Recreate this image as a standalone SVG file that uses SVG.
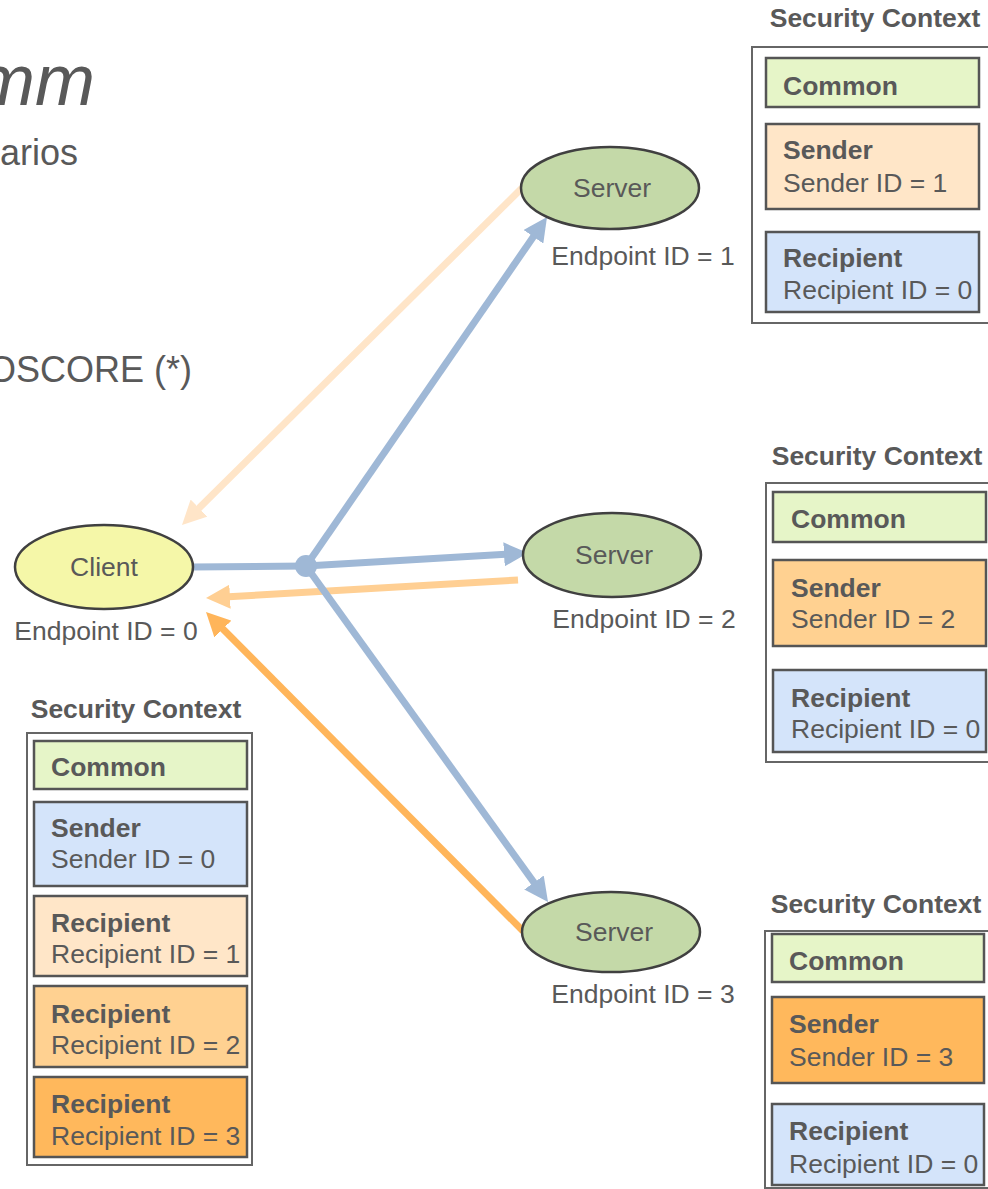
<svg xmlns="http://www.w3.org/2000/svg" width="988" height="1189" viewBox="0 0 988 1189">
  <style>
    text { font-family: "Liberation Sans", Arial, sans-serif; fill: #595959; }
    .title { font-size: 36px; }
    .big { font-size: 72px; font-style: italic; }
    .lbl { font-size: 26.5px; }
    .bold { font-size: 26.5px; font-weight: bold; }
    .node { stroke: #404040; stroke-width: 2.5; }
    .frame { fill: #ffffff; stroke: #666666; stroke-width: 2; }
    .part { stroke: #555555; stroke-width: 2.5; }
    .common { fill: #E6F5C8; }
    .blue { fill: #D4E4FA; }
    .peach { fill: #FFE6C8; }
    .lorange { fill: #FFD191; }
    .orange { fill: #FFB85C; }
    .wire { fill: none; stroke-width: 7; }
  </style>
  <defs>
    <marker id="ah-blue" viewBox="0 0 24 24" refX="6" refY="12" markerWidth="24" markerHeight="24" markerUnits="userSpaceOnUse" orient="auto">
      <path d="M0,0 L24,12 L0,24 z" fill="#9FB8D6"/>
    </marker>
    <marker id="ah-peach" viewBox="0 0 24 24" refX="6" refY="12" markerWidth="24" markerHeight="24" markerUnits="userSpaceOnUse" orient="auto">
      <path d="M0,0 L24,12 L0,24 z" fill="#FFE5C8"/>
    </marker>
    <marker id="ah-lorange" viewBox="0 0 24 24" refX="6" refY="12" markerWidth="24" markerHeight="24" markerUnits="userSpaceOnUse" orient="auto">
      <path d="M0,0 L24,12 L0,24 z" fill="#FFCF93"/>
    </marker>
    <marker id="ah-orange" viewBox="0 0 24 24" refX="6" refY="12" markerWidth="24" markerHeight="24" markerUnits="userSpaceOnUse" orient="auto">
      <path d="M0,0 L24,12 L0,24 z" fill="#FFB55A"/>
    </marker>
  </defs>

  <rect width="988" height="1189" fill="#ffffff"/>

  <!-- slide text partly outside the frame -->
  <g id="heading">
    <text class="big" x="95" y="105" text-anchor="end">mm</text>
    <text class="title" x="78" y="165" text-anchor="end">arios</text>
    <text class="title" x="192" y="382" text-anchor="end">OSCORE (*)</text>
  </g>

  <!-- connectors -->
  <g id="connectors">
    <line class="wire" x1="522" y1="188" x2="194.8" y2="512.3" stroke="#FFE5C8" marker-end="url(#ah-peach)"/>
    <line class="wire" x1="518" y1="580" x2="224" y2="597" stroke="#FFCF93" marker-end="url(#ah-lorange)"/>
    <line class="wire" x1="523" y1="931" x2="218.7" y2="624.8" stroke="#FFB55A" marker-end="url(#ah-orange)"/>
    <line class="wire" x1="192" y1="567" x2="306" y2="566" stroke="#9FB8D6"/>
    <line class="wire" x1="306" y1="566" x2="536.8" y2="231.8" stroke="#9FB8D6" marker-end="url(#ah-blue)"/>
    <line class="wire" x1="306" y1="566" x2="510" y2="554" stroke="#9FB8D6" marker-end="url(#ah-blue)"/>
    <line class="wire" x1="306" y1="566" x2="537.5" y2="887.4" stroke="#9FB8D6" marker-end="url(#ah-blue)"/>
    <circle cx="306" cy="566" r="11" fill="#9FB8D6"/>
  </g>

  <!-- endpoints -->
  <g id="client">
    <ellipse class="node" cx="104" cy="567" rx="89" ry="42" fill="#F5F7A8"/>
    <text class="lbl" x="104" y="576" text-anchor="middle">Client</text>
    <text class="lbl" x="106" y="640" text-anchor="middle">Endpoint ID = 0</text>
  </g>
  <g id="server1">
    <ellipse class="node" cx="610" cy="188" rx="89" ry="41" fill="#C4D9A8"/>
    <text class="lbl" x="612" y="197" text-anchor="middle">Server</text>
    <text class="lbl" x="643" y="265" text-anchor="middle">Endpoint ID = 1</text>
  </g>
  <g id="server2">
    <ellipse class="node" cx="612" cy="555" rx="89" ry="42" fill="#C4D9A8"/>
    <text class="lbl" x="614" y="564" text-anchor="middle">Server</text>
    <text class="lbl" x="644" y="628" text-anchor="middle">Endpoint ID = 2</text>
  </g>
  <g id="server3">
    <ellipse class="node" cx="611" cy="932" rx="89" ry="40" fill="#C4D9A8"/>
    <text class="lbl" x="614" y="941" text-anchor="middle">Server</text>
    <text class="lbl" x="643" y="1003" text-anchor="middle">Endpoint ID = 3</text>
  </g>

  <!-- security contexts -->
  <g id="ctx-server1">
    <text class="bold" x="875" y="27" text-anchor="middle">Security Context</text>
    <rect class="frame" x="752" y="47" width="250" height="276"/>
    <rect class="part common" x="766" y="58" width="213" height="49"/>
    <text class="bold" x="783" y="95">Common</text>
    <rect class="part peach" x="766" y="124" width="213" height="85"/>
    <text class="bold" x="783" y="159">Sender</text>
    <text class="lbl" x="783" y="192">Sender ID = 1</text>
    <rect class="part blue" x="766" y="232" width="213" height="80"/>
    <text class="bold" x="783" y="267">Recipient</text>
    <text class="lbl" x="783" y="299">Recipient ID = 0</text>
  </g>

  <g id="ctx-server2">
    <text class="bold" x="877" y="465" text-anchor="middle">Security Context</text>
    <rect class="frame" x="766" y="483" width="240" height="279"/>
    <rect class="part common" x="773" y="492" width="213" height="50"/>
    <text class="bold" x="791" y="528">Common</text>
    <rect class="part lorange" x="773" y="560" width="213" height="86"/>
    <text class="bold" x="791" y="597">Sender</text>
    <text class="lbl" x="791" y="628">Sender ID = 2</text>
    <rect class="part blue" x="773" y="670" width="213" height="82"/>
    <text class="bold" x="791" y="707">Recipient</text>
    <text class="lbl" x="791" y="738">Recipient ID = 0</text>
  </g>

  <g id="ctx-server3">
    <text class="bold" x="876" y="913" text-anchor="middle">Security Context</text>
    <rect class="frame" x="765" y="931" width="240" height="257"/>
    <rect class="part common" x="772" y="934" width="212" height="48"/>
    <text class="bold" x="789" y="970">Common</text>
    <rect class="part orange" x="772" y="997" width="212" height="86"/>
    <text class="bold" x="789" y="1033">Sender</text>
    <text class="lbl" x="789" y="1066">Sender ID = 3</text>
    <rect class="part blue" x="772" y="1104" width="212" height="81"/>
    <text class="bold" x="789" y="1140">Recipient</text>
    <text class="lbl" x="789" y="1173">Recipient ID = 0</text>
  </g>

  <g id="ctx-client">
    <text class="bold" x="136" y="718" text-anchor="middle">Security Context</text>
    <rect class="frame" x="27" y="733" width="225" height="432"/>
    <rect class="part common" x="34" y="741" width="213" height="48"/>
    <text class="bold" x="51" y="776">Common</text>
    <rect class="part blue" x="34" y="802" width="213" height="84"/>
    <text class="bold" x="51" y="837">Sender</text>
    <text class="lbl" x="51" y="868">Sender ID = 0</text>
    <rect class="part peach" x="34" y="896" width="213" height="80"/>
    <text class="bold" x="51" y="932">Recipient</text>
    <text class="lbl" x="51" y="963">Recipient ID = 1</text>
    <rect class="part lorange" x="34" y="986" width="213" height="81"/>
    <text class="bold" x="51" y="1023">Recipient</text>
    <text class="lbl" x="51" y="1054">Recipient ID = 2</text>
    <rect class="part orange" x="34" y="1077" width="213" height="80"/>
    <text class="bold" x="51" y="1113">Recipient</text>
    <text class="lbl" x="51" y="1145">Recipient ID = 3</text>
  </g>
</svg>
